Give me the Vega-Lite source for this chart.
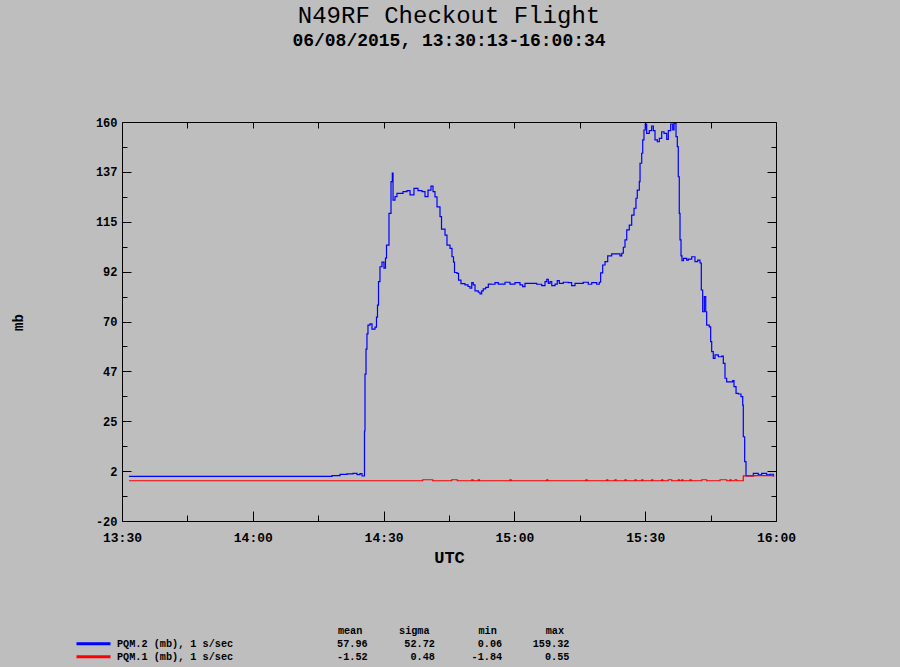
{
  "$schema": "https://vega.github.io/schema/vega-lite/v6.json",
  "width": 654,
  "height": 399,
  "autosize": {"type": "none"},
  "padding": {"left": 122, "top": 122, "right": 124, "bottom": 146},
  "background": "#bebebe",
  "title": {
    "text": "N49RF Checkout Flight",
    "subtitle": "06/08/2015, 13:30:13-16:00:34",
    "anchor": "middle",
    "frame": "group",
    "font": "Liberation Mono",
    "fontSize": 24,
    "fontWeight": "normal",
    "color": "black",
    "subtitleFont": "Liberation Mono",
    "subtitleFontSize": 18,
    "subtitleFontWeight": "bold",
    "subtitleColor": "black",
    "subtitlePadding": 4,
    "offset": 66
  },
  "layer": [
    {
      "data": {"values": [
        {"t": "2015-06-08T13:31:36Z", "v": 0.1, "s": "PQM.2"},
        {"t": "2015-06-08T14:17:42Z", "v": 0.1, "s": "PQM.2"},
        {"t": "2015-06-08T14:18:10Z", "v": 0.5, "s": "PQM.2"},
        {"t": "2015-06-08T14:20:00Z", "v": 1.0, "s": "PQM.2"},
        {"t": "2015-06-08T14:21:36Z", "v": 1.3, "s": "PQM.2"},
        {"t": "2015-06-08T14:22:59Z", "v": 1.5, "s": "PQM.2"},
        {"t": "2015-06-08T14:23:54Z", "v": 0.9, "s": "PQM.2"},
        {"t": "2015-06-08T14:24:35Z", "v": 1.4, "s": "PQM.2"},
        {"t": "2015-06-08T14:25:03Z", "v": 0.3, "s": "PQM.2"},
        {"t": "2015-06-08T14:25:37Z", "v": 20.6, "s": "PQM.2"},
        {"t": "2015-06-08T14:25:44Z", "v": 46.3, "s": "PQM.2"},
        {"t": "2015-06-08T14:25:58Z", "v": 57.5, "s": "PQM.2"},
        {"t": "2015-06-08T14:26:11Z", "v": 64.4, "s": "PQM.2"},
        {"t": "2015-06-08T14:26:25Z", "v": 68.4, "s": "PQM.2"},
        {"t": "2015-06-08T14:26:53Z", "v": 68.9, "s": "PQM.2"},
        {"t": "2015-06-08T14:27:20Z", "v": 66.6, "s": "PQM.2"},
        {"t": "2015-06-08T14:28:02Z", "v": 67.5, "s": "PQM.2"},
        {"t": "2015-06-08T14:28:22Z", "v": 72.0, "s": "PQM.2"},
        {"t": "2015-06-08T14:28:36Z", "v": 77.4, "s": "PQM.2"},
        {"t": "2015-06-08T14:28:50Z", "v": 88.0, "s": "PQM.2"},
        {"t": "2015-06-08T14:29:10Z", "v": 94.7, "s": "PQM.2"},
        {"t": "2015-06-08T14:29:38Z", "v": 96.8, "s": "PQM.2"},
        {"t": "2015-06-08T14:30:05Z", "v": 94.1, "s": "PQM.2"},
        {"t": "2015-06-08T14:30:26Z", "v": 98.6, "s": "PQM.2"},
        {"t": "2015-06-08T14:30:40Z", "v": 104.5, "s": "PQM.2"},
        {"t": "2015-06-08T14:31:14Z", "v": 118.8, "s": "PQM.2"},
        {"t": "2015-06-08T14:31:42Z", "v": 133.1, "s": "PQM.2"},
        {"t": "2015-06-08T14:32:00Z", "v": 136.9, "s": "PQM.2"},
        {"t": "2015-06-08T14:32:10Z", "v": 124.8, "s": "PQM.2"},
        {"t": "2015-06-08T14:32:37Z", "v": 126.3, "s": "PQM.2"},
        {"t": "2015-06-08T14:33:04Z", "v": 127.8, "s": "PQM.2"},
        {"t": "2015-06-08T14:34:27Z", "v": 128.6, "s": "PQM.2"},
        {"t": "2015-06-08T14:35:22Z", "v": 129.0, "s": "PQM.2"},
        {"t": "2015-06-08T14:36:04Z", "v": 127.1, "s": "PQM.2"},
        {"t": "2015-06-08T14:36:58Z", "v": 130.1, "s": "PQM.2"},
        {"t": "2015-06-08T14:37:53Z", "v": 129.0, "s": "PQM.2"},
        {"t": "2015-06-08T14:38:49Z", "v": 128.6, "s": "PQM.2"},
        {"t": "2015-06-08T14:39:30Z", "v": 126.3, "s": "PQM.2"},
        {"t": "2015-06-08T14:40:11Z", "v": 129.3, "s": "PQM.2"},
        {"t": "2015-06-08T14:40:52Z", "v": 131.1, "s": "PQM.2"},
        {"t": "2015-06-08T14:41:20Z", "v": 128.6, "s": "PQM.2"},
        {"t": "2015-06-08T14:41:47Z", "v": 126.2, "s": "PQM.2"},
        {"t": "2015-06-08T14:42:15Z", "v": 121.7, "s": "PQM.2"},
        {"t": "2015-06-08T14:42:56Z", "v": 117.3, "s": "PQM.2"},
        {"t": "2015-06-08T14:43:17Z", "v": 111.7, "s": "PQM.2"},
        {"t": "2015-06-08T14:44:05Z", "v": 109.0, "s": "PQM.2"},
        {"t": "2015-06-08T14:44:32Z", "v": 104.5, "s": "PQM.2"},
        {"t": "2015-06-08T14:45:14Z", "v": 103.0, "s": "PQM.2"},
        {"t": "2015-06-08T14:45:41Z", "v": 99.2, "s": "PQM.2"},
        {"t": "2015-06-08T14:46:02Z", "v": 96.8, "s": "PQM.2"},
        {"t": "2015-06-08T14:46:16Z", "v": 92.1, "s": "PQM.2"},
        {"t": "2015-06-08T14:46:50Z", "v": 91.7, "s": "PQM.2"},
        {"t": "2015-06-08T14:47:11Z", "v": 88.7, "s": "PQM.2"},
        {"t": "2015-06-08T14:47:45Z", "v": 87.1, "s": "PQM.2"},
        {"t": "2015-06-08T14:48:40Z", "v": 86.5, "s": "PQM.2"},
        {"t": "2015-06-08T14:49:22Z", "v": 85.8, "s": "PQM.2"},
        {"t": "2015-06-08T14:49:49Z", "v": 85.0, "s": "PQM.2"},
        {"t": "2015-06-08T14:50:13Z", "v": 87.5, "s": "PQM.2"},
        {"t": "2015-06-08T14:50:34Z", "v": 86.5, "s": "PQM.2"},
        {"t": "2015-06-08T14:50:58Z", "v": 83.8, "s": "PQM.2"},
        {"t": "2015-06-08T14:51:43Z", "v": 83.2, "s": "PQM.2"},
        {"t": "2015-06-08T14:52:07Z", "v": 82.4, "s": "PQM.2"},
        {"t": "2015-06-08T14:52:30Z", "v": 83.8, "s": "PQM.2"},
        {"t": "2015-06-08T14:52:52Z", "v": 84.7, "s": "PQM.2"},
        {"t": "2015-06-08T14:53:25Z", "v": 85.4, "s": "PQM.2"},
        {"t": "2015-06-08T14:54:01Z", "v": 86.9, "s": "PQM.2"},
        {"t": "2015-06-08T14:54:47Z", "v": 86.8, "s": "PQM.2"},
        {"t": "2015-06-08T14:55:33Z", "v": 87.5, "s": "PQM.2"},
        {"t": "2015-06-08T14:56:18Z", "v": 86.9, "s": "PQM.2"},
        {"t": "2015-06-08T14:57:51Z", "v": 87.7, "s": "PQM.2"},
        {"t": "2015-06-08T14:58:59Z", "v": 86.9, "s": "PQM.2"},
        {"t": "2015-06-08T15:00:08Z", "v": 87.5, "s": "PQM.2"},
        {"t": "2015-06-08T15:01:17Z", "v": 86.5, "s": "PQM.2"},
        {"t": "2015-06-08T15:01:54Z", "v": 85.7, "s": "PQM.2"},
        {"t": "2015-06-08T15:02:26Z", "v": 87.2, "s": "PQM.2"},
        {"t": "2015-06-08T15:05:07Z", "v": 86.8, "s": "PQM.2"},
        {"t": "2015-06-08T15:06:16Z", "v": 86.2, "s": "PQM.2"},
        {"t": "2015-06-08T15:07:01Z", "v": 88.0, "s": "PQM.2"},
        {"t": "2015-06-08T15:07:25Z", "v": 89.0, "s": "PQM.2"},
        {"t": "2015-06-08T15:07:47Z", "v": 87.2, "s": "PQM.2"},
        {"t": "2015-06-08T15:08:10Z", "v": 88.0, "s": "PQM.2"},
        {"t": "2015-06-08T15:08:34Z", "v": 86.2, "s": "PQM.2"},
        {"t": "2015-06-08T15:09:19Z", "v": 86.9, "s": "PQM.2"},
        {"t": "2015-06-08T15:09:50Z", "v": 88.4, "s": "PQM.2"},
        {"t": "2015-06-08T15:10:18Z", "v": 87.2, "s": "PQM.2"},
        {"t": "2015-06-08T15:11:13Z", "v": 87.7, "s": "PQM.2"},
        {"t": "2015-06-08T15:12:22Z", "v": 87.5, "s": "PQM.2"},
        {"t": "2015-06-08T15:13:08Z", "v": 86.2, "s": "PQM.2"},
        {"t": "2015-06-08T15:13:54Z", "v": 87.2, "s": "PQM.2"},
        {"t": "2015-06-08T15:15:48Z", "v": 87.7, "s": "PQM.2"},
        {"t": "2015-06-08T15:16:57Z", "v": 86.8, "s": "PQM.2"},
        {"t": "2015-06-08T15:17:44Z", "v": 87.5, "s": "PQM.2"},
        {"t": "2015-06-08T15:18:53Z", "v": 86.8, "s": "PQM.2"},
        {"t": "2015-06-08T15:19:28Z", "v": 87.7, "s": "PQM.2"},
        {"t": "2015-06-08T15:19:47Z", "v": 91.9, "s": "PQM.2"},
        {"t": "2015-06-08T15:20:15Z", "v": 95.5, "s": "PQM.2"},
        {"t": "2015-06-08T15:20:47Z", "v": 97.0, "s": "PQM.2"},
        {"t": "2015-06-08T15:21:24Z", "v": 99.6, "s": "PQM.2"},
        {"t": "2015-06-08T15:22:19Z", "v": 100.5, "s": "PQM.2"},
        {"t": "2015-06-08T15:24:13Z", "v": 99.6, "s": "PQM.2"},
        {"t": "2015-06-08T15:24:37Z", "v": 100.8, "s": "PQM.2"},
        {"t": "2015-06-08T15:24:59Z", "v": 103.5, "s": "PQM.2"},
        {"t": "2015-06-08T15:25:22Z", "v": 106.8, "s": "PQM.2"},
        {"t": "2015-06-08T15:25:46Z", "v": 111.3, "s": "PQM.2"},
        {"t": "2015-06-08T15:26:21Z", "v": 113.5, "s": "PQM.2"},
        {"t": "2015-06-08T15:26:54Z", "v": 118.0, "s": "PQM.2"},
        {"t": "2015-06-08T15:27:26Z", "v": 121.1, "s": "PQM.2"},
        {"t": "2015-06-08T15:27:53Z", "v": 125.6, "s": "PQM.2"},
        {"t": "2015-06-08T15:28:11Z", "v": 129.3, "s": "PQM.2"},
        {"t": "2015-06-08T15:28:39Z", "v": 133.1, "s": "PQM.2"},
        {"t": "2015-06-08T15:28:49Z", "v": 141.4, "s": "PQM.2"},
        {"t": "2015-06-08T15:29:12Z", "v": 145.9, "s": "PQM.2"},
        {"t": "2015-06-08T15:29:26Z", "v": 151.9, "s": "PQM.2"},
        {"t": "2015-06-08T15:29:43Z", "v": 156.4, "s": "PQM.2"},
        {"t": "2015-06-08T15:30:01Z", "v": 159.1, "s": "PQM.2"},
        {"t": "2015-06-08T15:30:20Z", "v": 154.9, "s": "PQM.2"},
        {"t": "2015-06-08T15:30:56Z", "v": 156.1, "s": "PQM.2"},
        {"t": "2015-06-08T15:31:29Z", "v": 158.2, "s": "PQM.2"},
        {"t": "2015-06-08T15:31:52Z", "v": 156.1, "s": "PQM.2"},
        {"t": "2015-06-08T15:32:15Z", "v": 151.9, "s": "PQM.2"},
        {"t": "2015-06-08T15:32:47Z", "v": 151.1, "s": "PQM.2"},
        {"t": "2015-06-08T15:33:14Z", "v": 152.6, "s": "PQM.2"},
        {"t": "2015-06-08T15:33:47Z", "v": 155.6, "s": "PQM.2"},
        {"t": "2015-06-08T15:34:19Z", "v": 154.9, "s": "PQM.2"},
        {"t": "2015-06-08T15:34:56Z", "v": 152.2, "s": "PQM.2"},
        {"t": "2015-06-08T15:35:18Z", "v": 156.1, "s": "PQM.2"},
        {"t": "2015-06-08T15:35:51Z", "v": 159.1, "s": "PQM.2"},
        {"t": "2015-06-08T15:36:19Z", "v": 156.4, "s": "PQM.2"},
        {"t": "2015-06-08T15:36:37Z", "v": 159.32, "s": "PQM.2"},
        {"t": "2015-06-08T15:37:04Z", "v": 153.4, "s": "PQM.2"},
        {"t": "2015-06-08T15:37:22Z", "v": 148.9, "s": "PQM.2"},
        {"t": "2015-06-08T15:37:35Z", "v": 135.3, "s": "PQM.2"},
        {"t": "2015-06-08T15:37:49Z", "v": 118.8, "s": "PQM.2"},
        {"t": "2015-06-08T15:37:59Z", "v": 106.8, "s": "PQM.2"},
        {"t": "2015-06-08T15:38:13Z", "v": 99.6, "s": "PQM.2"},
        {"t": "2015-06-08T15:38:26Z", "v": 97.4, "s": "PQM.2"},
        {"t": "2015-06-08T15:38:47Z", "v": 98.5, "s": "PQM.2"},
        {"t": "2015-06-08T15:39:31Z", "v": 97.7, "s": "PQM.2"},
        {"t": "2015-06-08T15:39:53Z", "v": 98.1, "s": "PQM.2"},
        {"t": "2015-06-08T15:40:40Z", "v": 99.2, "s": "PQM.2"},
        {"t": "2015-06-08T15:41:25Z", "v": 97.0, "s": "PQM.2"},
        {"t": "2015-06-08T15:42:02Z", "v": 97.7, "s": "PQM.2"},
        {"t": "2015-06-08T15:42:34Z", "v": 96.4, "s": "PQM.2"},
        {"t": "2015-06-08T15:42:52Z", "v": 84.2, "s": "PQM.2"},
        {"t": "2015-06-08T15:43:11Z", "v": 74.4, "s": "PQM.2"},
        {"t": "2015-06-08T15:43:34Z", "v": 81.2, "s": "PQM.2"},
        {"t": "2015-06-08T15:43:53Z", "v": 74.4, "s": "PQM.2"},
        {"t": "2015-06-08T15:44:06Z", "v": 68.4, "s": "PQM.2"},
        {"t": "2015-06-08T15:44:42Z", "v": 67.6, "s": "PQM.2"},
        {"t": "2015-06-08T15:45:01Z", "v": 60.9, "s": "PQM.2"},
        {"t": "2015-06-08T15:45:15Z", "v": 56.4, "s": "PQM.2"},
        {"t": "2015-06-08T15:45:37Z", "v": 53.4, "s": "PQM.2"},
        {"t": "2015-06-08T15:46:01Z", "v": 54.9, "s": "PQM.2"},
        {"t": "2015-06-08T15:46:46Z", "v": 54.1, "s": "PQM.2"},
        {"t": "2015-06-08T15:47:33Z", "v": 54.4, "s": "PQM.2"},
        {"t": "2015-06-08T15:47:55Z", "v": 51.1, "s": "PQM.2"},
        {"t": "2015-06-08T15:48:18Z", "v": 44.4, "s": "PQM.2"},
        {"t": "2015-06-08T15:48:41Z", "v": 42.8, "s": "PQM.2"},
        {"t": "2015-06-08T15:50:04Z", "v": 43.3, "s": "PQM.2"},
        {"t": "2015-06-08T15:50:22Z", "v": 40.6, "s": "PQM.2"},
        {"t": "2015-06-08T15:50:50Z", "v": 37.6, "s": "PQM.2"},
        {"t": "2015-06-08T15:51:21Z", "v": 37.3, "s": "PQM.2"},
        {"t": "2015-06-08T15:51:58Z", "v": 36.1, "s": "PQM.2"},
        {"t": "2015-06-08T15:52:22Z", "v": 32.3, "s": "PQM.2"},
        {"t": "2015-06-08T15:52:30Z", "v": 18.0, "s": "PQM.2"},
        {"t": "2015-06-08T15:52:49Z", "v": 6.8, "s": "PQM.2"},
        {"t": "2015-06-08T15:53:07Z", "v": 0.4, "s": "PQM.2"},
        {"t": "2015-06-08T15:54:48Z", "v": 1.5, "s": "PQM.2"},
        {"t": "2015-06-08T15:55:56Z", "v": 0.8, "s": "PQM.2"},
        {"t": "2015-06-08T15:56:43Z", "v": 1.5, "s": "PQM.2"},
        {"t": "2015-06-08T15:57:52Z", "v": 0.8, "s": "PQM.2"},
        {"t": "2015-06-08T15:58:37Z", "v": 1.1, "s": "PQM.2"},
        {"t": "2015-06-08T15:59:23Z", "v": 0.3, "s": "PQM.2"},
        {"t": "2015-06-08T15:59:35Z", "v": 0.3, "s": "PQM.2"},
        {"t": "2015-06-08T13:31:36Z", "v": -1.84, "s": "PQM.1"},
        {"t": "2015-06-08T14:38:58Z", "v": -1.4, "s": "PQM.1"},
        {"t": "2015-06-08T14:41:16Z", "v": -1.84, "s": "PQM.1"},
        {"t": "2015-06-08T14:45:37Z", "v": -1.4, "s": "PQM.1"},
        {"t": "2015-06-08T14:46:54Z", "v": -1.84, "s": "PQM.1"},
        {"t": "2015-06-08T14:50:13Z", "v": -1.4, "s": "PQM.1"},
        {"t": "2015-06-08T14:50:30Z", "v": -1.84, "s": "PQM.1"},
        {"t": "2015-06-08T14:51:43Z", "v": -1.4, "s": "PQM.1"},
        {"t": "2015-06-08T14:52:00Z", "v": -1.84, "s": "PQM.1"},
        {"t": "2015-06-08T14:58:59Z", "v": -1.4, "s": "PQM.1"},
        {"t": "2015-06-08T14:59:15Z", "v": -1.84, "s": "PQM.1"},
        {"t": "2015-06-08T15:07:25Z", "v": -1.4, "s": "PQM.1"},
        {"t": "2015-06-08T15:07:40Z", "v": -1.84, "s": "PQM.1"},
        {"t": "2015-06-08T15:16:25Z", "v": -1.4, "s": "PQM.1"},
        {"t": "2015-06-08T15:16:40Z", "v": -1.84, "s": "PQM.1"},
        {"t": "2015-06-08T15:21:10Z", "v": -1.4, "s": "PQM.1"},
        {"t": "2015-06-08T15:21:25Z", "v": -1.84, "s": "PQM.1"},
        {"t": "2015-06-08T15:23:04Z", "v": -1.4, "s": "PQM.1"},
        {"t": "2015-06-08T15:23:20Z", "v": -1.84, "s": "PQM.1"},
        {"t": "2015-06-08T15:25:22Z", "v": -1.4, "s": "PQM.1"},
        {"t": "2015-06-08T15:25:38Z", "v": -1.84, "s": "PQM.1"},
        {"t": "2015-06-08T15:27:40Z", "v": -1.4, "s": "PQM.1"},
        {"t": "2015-06-08T15:27:55Z", "v": -1.84, "s": "PQM.1"},
        {"t": "2015-06-08T15:29:12Z", "v": -1.4, "s": "PQM.1"},
        {"t": "2015-06-08T15:29:28Z", "v": -1.84, "s": "PQM.1"},
        {"t": "2015-06-08T15:31:29Z", "v": -1.4, "s": "PQM.1"},
        {"t": "2015-06-08T15:31:45Z", "v": -1.84, "s": "PQM.1"},
        {"t": "2015-06-08T15:33:47Z", "v": -1.4, "s": "PQM.1"},
        {"t": "2015-06-08T15:34:02Z", "v": -1.84, "s": "PQM.1"},
        {"t": "2015-06-08T15:35:18Z", "v": -1.4, "s": "PQM.1"},
        {"t": "2015-06-08T15:36:05Z", "v": -1.84, "s": "PQM.1"},
        {"t": "2015-06-08T15:37:35Z", "v": -1.4, "s": "PQM.1"},
        {"t": "2015-06-08T15:37:50Z", "v": -1.84, "s": "PQM.1"},
        {"t": "2015-06-08T15:38:22Z", "v": -1.4, "s": "PQM.1"},
        {"t": "2015-06-08T15:38:38Z", "v": -1.84, "s": "PQM.1"},
        {"t": "2015-06-08T15:40:17Z", "v": -1.4, "s": "PQM.1"},
        {"t": "2015-06-08T15:40:33Z", "v": -1.84, "s": "PQM.1"},
        {"t": "2015-06-08T15:42:58Z", "v": -1.4, "s": "PQM.1"},
        {"t": "2015-06-08T15:44:06Z", "v": -1.84, "s": "PQM.1"},
        {"t": "2015-06-08T15:47:10Z", "v": -1.4, "s": "PQM.1"},
        {"t": "2015-06-08T15:48:41Z", "v": -1.84, "s": "PQM.1"},
        {"t": "2015-06-08T15:49:27Z", "v": -1.4, "s": "PQM.1"},
        {"t": "2015-06-08T15:49:43Z", "v": -1.84, "s": "PQM.1"},
        {"t": "2015-06-08T15:50:36Z", "v": -1.4, "s": "PQM.1"},
        {"t": "2015-06-08T15:50:59Z", "v": -1.84, "s": "PQM.1"},
        {"t": "2015-06-08T15:52:30Z", "v": 0.4, "s": "PQM.1"},
        {"t": "2015-06-08T15:55:00Z", "v": 0.5, "s": "PQM.1"},
        {"t": "2015-06-08T15:59:35Z", "v": 0.5, "s": "PQM.1"}
      ]},
      "mark": {"type": "line", "interpolate": "step-after", "strokeWidth": 1.2, "clip": true},
      "encoding": {
        "x": {
          "field": "t", "type": "temporal",
          "scale": {"type": "utc", "domain": [
            {"year": 2015, "month": 6, "date": 8, "hours": 13, "minutes": 30, "utc": true},
            {"year": 2015, "month": 6, "date": 8, "hours": 16, "minutes": 0, "utc": true}]},
          "axis": {
            "orient": "bottom",
            "values": [
              {"year": 2015, "month": 6, "date": 8, "hours": 13, "minutes": 30, "utc": true},
              {"year": 2015, "month": 6, "date": 8, "hours": 14, "minutes": 0, "utc": true},
              {"year": 2015, "month": 6, "date": 8, "hours": 14, "minutes": 30, "utc": true},
              {"year": 2015, "month": 6, "date": 8, "hours": 15, "minutes": 0, "utc": true},
              {"year": 2015, "month": 6, "date": 8, "hours": 15, "minutes": 30, "utc": true},
              {"year": 2015, "month": 6, "date": 8, "hours": 16, "minutes": 0, "utc": true}],
            "format": "%H:%M",
            "ticks": false, "domain": false, "grid": false,
            "labelFont": "Liberation Mono", "labelFontSize": 13, "labelFontWeight": "bold", "labelColor": "black",
            "labelPadding": 10, "labelFlush": false, "labelOverlap": false,
            "title": "UTC", "titleFont": "Liberation Mono", "titleFontSize": 17, "titleFontWeight": "bold",
            "titleColor": "black", "titleBaseline": "alphabetic", "titleY": 41
          }
        },
        "y": {
          "field": "v", "type": "quantitative",
          "scale": {"domain": [-20, 160], "nice": false, "zero": false},
          "axis": {
            "orient": "left",
            "values": [-20, 2.5, 25, 47.5, 70, 92.5, 115, 137.5, 160],
            "labelExpr": "'' + floor(datum.value)",
            "ticks": false, "domain": false, "grid": false,
            "labelFont": "Liberation Mono", "labelFontSize": 12, "labelFontWeight": "bold", "labelColor": "black",
            "labelPadding": 5, "labelOverlap": false,
            "title": "mb", "titleFont": "Liberation Mono", "titleFontSize": 14, "titleFontWeight": "bold",
            "titleColor": "black", "titleAngle": 270, "titleX": -104, "titleY": 200,
            "titleBaseline": "middle", "titleAlign": "center"
          }
        },
        "color": {
          "field": "s", "type": "nominal",
          "scale": {"domain": ["PQM.2", "PQM.1"], "range": ["#0000ff", "#ff0000"]},
          "legend": {
            "orient": "none", "legendX": -47, "legendY": 504, "direction": "vertical",
            "title": "\u200b\u00a0\u00a0\u00a0\u00a0\u00a0\u00a0\u00a0\u00a0\u00a0\u00a0\u00a0\u00a0\u00a0\u00a0\u00a0\u00a0\u00a0\u00a0\u00a0\u00a0\u00a0\u00a0\u00a0\u00a0\u00a0\u00a0\u00a0\u00a0\u00a0\u00a0\u00a0\u00a0\u00a0\u00a0\u00a0\u00a0\u00a0\u00a0\u00a0\u00a0\u00a0\u00a0\u00a0mean\u00a0\u00a0\u00a0\u00a0\u00a0\u00a0sigma\u00a0\u00a0\u00a0\u00a0\u00a0\u00a0\u00a0\u00a0min\u00a0\u00a0\u00a0\u00a0\u00a0\u00a0\u00a0\u00a0max",
            "titleFont": "Liberation Mono", "titleFontSize": 10.2, "titleFontWeight": "bold", "titleColor": "black",
            "titlePadding": 2, "titleLimit": 900,
            "labelFont": "Liberation Mono", "labelFontSize": 10.2, "labelFontWeight": "bold", "labelColor": "black",
            "labelLimit": 900, "labelOffset": 31,
            "labelExpr": "datum.label == 'PQM.2' ? pad('PQM.2 (mb), 1 s/sec', 30, '\u00a0') + pad('57.96', 11, '\u00a0', 'left') + pad('52.72', 11, '\u00a0', 'left') + pad('0.06', 11, '\u00a0', 'left') + pad('159.32', 11, '\u00a0', 'left') : pad('PQM.1 (mb), 1 s/sec', 30, '\u00a0') + pad('-1.52', 11, '\u00a0', 'left') + pad('0.48', 11, '\u00a0', 'left') + pad('-1.84', 11, '\u00a0', 'left') + pad('0.55', 11, '\u00a0', 'left')",
            "symbolType": "M-1,0H7.5", "symbolSize": 64, "symbolStrokeWidth": 3,
            "rowPadding": 0, "padding": 0
          }
        }
      }
    },
    {
      "data": {"values": [{"t": "2015-06-08T13:30:00Z", "v": 0}]},
      "mark": {"type": "point", "opacity": 0},
      "encoding": {
        "x": {
          "field": "t", "type": "temporal",
          "scale": {"type": "utc", "domain": [
            {"year": 2015, "month": 6, "date": 8, "hours": 13, "minutes": 30, "utc": true},
            {"year": 2015, "month": 6, "date": 8, "hours": 16, "minutes": 0, "utc": true}]},
          "axis": {
            "orient": "bottom",
            "values": [
              {"year": 2015, "month": 6, "date": 8, "hours": 13, "minutes": 30, "utc": true},
              {"year": 2015, "month": 6, "date": 8, "hours": 14, "minutes": 0, "utc": true},
              {"year": 2015, "month": 6, "date": 8, "hours": 14, "minutes": 30, "utc": true},
              {"year": 2015, "month": 6, "date": 8, "hours": 15, "minutes": 0, "utc": true},
              {"year": 2015, "month": 6, "date": 8, "hours": 15, "minutes": 30, "utc": true},
              {"year": 2015, "month": 6, "date": 8, "hours": 16, "minutes": 0, "utc": true}],
            "labels": false, "tickSize": -10, "domain": true, "grid": false, "title": null
          }
        },
        "y": {
          "field": "v", "type": "quantitative",
          "scale": {"domain": [-20, 160], "nice": false, "zero": false},
          "axis": {
            "orient": "left",
            "values": [-20, 2.5, 25, 47.5, 70, 92.5, 115, 137.5, 160],
            "labels": false, "tickSize": -9, "domain": true, "grid": false, "title": null
          }
        }
      }
    },
    {
      "data": {"values": [{"t": "2015-06-08T13:30:00Z", "v": 0}]},
      "mark": {"type": "point", "opacity": 0},
      "encoding": {
        "x": {
          "field": "t", "type": "temporal",
          "scale": {"type": "utc", "domain": [
            {"year": 2015, "month": 6, "date": 8, "hours": 13, "minutes": 30, "utc": true},
            {"year": 2015, "month": 6, "date": 8, "hours": 16, "minutes": 0, "utc": true}]},
          "axis": {
            "orient": "bottom",
            "values": [
              {"year": 2015, "month": 6, "date": 8, "hours": 13, "minutes": 45, "utc": true},
              {"year": 2015, "month": 6, "date": 8, "hours": 14, "minutes": 15, "utc": true},
              {"year": 2015, "month": 6, "date": 8, "hours": 14, "minutes": 45, "utc": true},
              {"year": 2015, "month": 6, "date": 8, "hours": 15, "minutes": 15, "utc": true},
              {"year": 2015, "month": 6, "date": 8, "hours": 15, "minutes": 45, "utc": true}],
            "labels": false, "tickSize": -6, "domain": false, "grid": false, "title": null
          }
        },
        "y": {
          "field": "v", "type": "quantitative",
          "scale": {"domain": [-20, 160], "nice": false, "zero": false},
          "axis": {
            "orient": "left",
            "values": [-8.75, 13.75, 36.25, 58.75, 81.25, 103.75, 126.25, 148.75],
            "labels": false, "tickSize": -5, "domain": false, "grid": false, "title": null
          }
        }
      }
    },
    {
      "data": {"values": [{"t": "2015-06-08T13:30:00Z", "v": 0}]},
      "mark": {"type": "point", "opacity": 0},
      "encoding": {
        "x": {
          "field": "t", "type": "temporal",
          "scale": {"type": "utc", "domain": [
            {"year": 2015, "month": 6, "date": 8, "hours": 13, "minutes": 30, "utc": true},
            {"year": 2015, "month": 6, "date": 8, "hours": 16, "minutes": 0, "utc": true}]},
          "axis": {
            "orient": "top",
            "values": [
              {"year": 2015, "month": 6, "date": 8, "hours": 13, "minutes": 45, "utc": true},
              {"year": 2015, "month": 6, "date": 8, "hours": 14, "minutes": 0, "utc": true},
              {"year": 2015, "month": 6, "date": 8, "hours": 14, "minutes": 15, "utc": true},
              {"year": 2015, "month": 6, "date": 8, "hours": 14, "minutes": 30, "utc": true},
              {"year": 2015, "month": 6, "date": 8, "hours": 14, "minutes": 45, "utc": true},
              {"year": 2015, "month": 6, "date": 8, "hours": 15, "minutes": 0, "utc": true},
              {"year": 2015, "month": 6, "date": 8, "hours": 15, "minutes": 15, "utc": true},
              {"year": 2015, "month": 6, "date": 8, "hours": 15, "minutes": 30, "utc": true},
              {"year": 2015, "month": 6, "date": 8, "hours": 15, "minutes": 45, "utc": true}],
            "labels": false, "tickSize": -6, "domain": true, "grid": false, "title": null
          }
        },
        "y": {
          "field": "v", "type": "quantitative",
          "scale": {"domain": [-20, 160], "nice": false, "zero": false},
          "axis": {
            "orient": "right",
            "values": [-20, 2.5, 25, 47.5, 70, 92.5, 115, 137.5, 160],
            "labels": false, "tickSize": -9, "domain": true, "grid": false, "title": null
          }
        }
      }
    },
    {
      "data": {"values": [{"t": "2015-06-08T13:30:00Z", "v": 0}]},
      "mark": {"type": "point", "opacity": 0},
      "encoding": {
        "x": {
          "field": "t", "type": "temporal",
          "scale": {"type": "utc", "domain": [
            {"year": 2015, "month": 6, "date": 8, "hours": 13, "minutes": 30, "utc": true},
            {"year": 2015, "month": 6, "date": 8, "hours": 16, "minutes": 0, "utc": true}]},
          "axis": null
        },
        "y": {
          "field": "v", "type": "quantitative",
          "scale": {"domain": [-20, 160], "nice": false, "zero": false},
          "axis": {
            "orient": "right",
            "values": [-8.75, 13.75, 36.25, 58.75, 81.25, 103.75, 126.25, 148.75],
            "labels": false, "tickSize": -5, "domain": false, "grid": false, "title": null
          }
        }
      }
    }
  ],
  "resolve": {"axis": {"x": "independent", "y": "independent"}},
  "config": {
    "view": {"stroke": null},
    "axis": {"grid": false, "tickColor": "black", "domainColor": "black", "tickWidth": 1, "domainWidth": 1}
  }
}
